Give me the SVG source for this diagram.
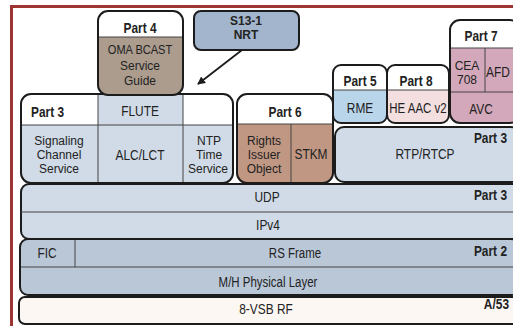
<svg xmlns="http://www.w3.org/2000/svg" width="513" height="326" viewBox="0 0 513 326">
<style>
text{font-family:"Liberation Sans",Arial,sans-serif;font-size:14px;fill:#222;text-anchor:middle}
.b{font-weight:bold}
.r{text-anchor:end}
.l{text-anchor:start}
.s{font-size:12px}
.m{font-size:13px}
.box{fill:none;stroke:#1c1c1c;stroke-width:2}
.div{stroke:#444;stroke-width:1;fill:none}
.lb{fill:#d0dbe7}
.mb{fill:#b9c7d7}
</style>
<defs>
<clipPath id="c3"><rect x="21" y="94" width="212" height="89" rx="10"/></clipPath>
<clipPath id="c4"><rect x="98" y="11" width="85" height="84" rx="10"/></clipPath>
<clipPath id="c6"><rect x="237" y="94" width="96" height="89" rx="10"/></clipPath>
<clipPath id="c5"><rect x="333" y="65" width="54" height="58" rx="8"/></clipPath>
<clipPath id="c8"><rect x="387" y="65" width="62" height="58" rx="8"/></clipPath>
<clipPath id="c7"><rect x="450" y="20" width="70" height="103" rx="10"/></clipPath>
<clipPath id="c2"><rect x="20" y="239" width="499" height="56" rx="8"/></clipPath>
<marker id="ah" markerWidth="8" markerHeight="8" refX="7" refY="4" orient="auto" markerUnits="userSpaceOnUse"><path d="M0,0 L8,4 L0,8 Z" fill="#1c1c1c"/></marker>
</defs>
<g id="frame"><path d="M11.5,326 V6.5 H513" fill="none" stroke="#9e3434" stroke-width="3"/></g>

<g id="part3-left">
<g clip-path="url(#c3)">
<rect x="21" y="94" width="212" height="89" fill="#fff"/>
<rect class="lb" x="98" y="94" width="85" height="31"/>
<rect class="lb" x="21" y="125" width="212" height="58"/>
</g>
<path class="div" d="M21,125 H233 M98,94 V183 M183,94 V183"/>
<rect class="box" x="21" y="94" width="212" height="89" rx="10"/>
<text class="b l" transform="translate(31,117) scale(0.85,1)">Part 3</text>
<text transform="translate(140,116) scale(0.85,1)">FLUTE</text>
<text class="s" x="59" y="145">Signaling</text>
<text class="s" x="59" y="159">Channel</text>
<text class="s" x="59" y="173">Service</text>
<text transform="translate(140,160) scale(0.85,1)">ALC/LCT</text>
<text class="s" x="209" y="145">NTP</text>
<text class="s" x="209" y="159">Time</text>
<text class="s" x="208" y="173">Service</text>
</g>

<g id="part4">
<g clip-path="url(#c4)">
<rect x="98" y="11" width="85" height="84" fill="#fff"/>
<rect x="98" y="37" width="85" height="58" fill="#ab9c8e"/>
</g>
<path class="div" d="M98,37 H183"/>
<rect class="box" x="98" y="11" width="85" height="84" rx="10"/>
<text class="b" transform="translate(140,33) scale(0.85,1)">Part 4</text>
<text class="m" transform="translate(140,54) scale(0.85,1)">OMA BCAST</text>
<text class="m" transform="translate(140,69.5) scale(0.92,1)">Service</text>
<text class="m" transform="translate(140,85) scale(0.92,1)">Guide</text>
</g>

<g id="s13">
<rect x="194" y="11" width="105" height="39" rx="7" fill="#a2b5cc" stroke="#1c1c1c" stroke-width="2"/>
<text class="b s" x="246" y="25">S13-1</text>
<text class="b s" x="246" y="39">NRT</text>
</g>

<g id="connectors">
<path d="M242,50 L198,84" fill="none" stroke="#1c1c1c" stroke-width="1.8" marker-end="url(#ah)"/>
</g>

<g id="part6">
<g clip-path="url(#c6)">
<rect x="237" y="94" width="96" height="89" fill="#fff"/>
<rect x="237" y="124" width="96" height="59" fill="#c09783"/>
</g>
<path class="div" d="M237,124 H333 M291,124 V183"/>
<rect class="box" x="237" y="94" width="96" height="89" rx="10"/>
<text class="b" transform="translate(285,117) scale(0.85,1)">Part 6</text>
<text class="s" x="264" y="145">Rights</text>
<text class="s" x="264" y="159">Issuer</text>
<text class="s" x="264" y="173">Object</text>
<text transform="translate(311,159) scale(0.85,1)">STKM</text>
</g>

<g id="part5">
<g clip-path="url(#c5)">
<rect x="333" y="65" width="54" height="58" fill="#fff"/>
<rect x="333" y="90" width="54" height="33" fill="#b9d5ea"/>
</g>
<path class="div" d="M333,90 H387"/>
<rect class="box" x="333" y="65" width="54" height="58" rx="8"/>
<text class="b" transform="translate(360,86) scale(0.85,1)">Part 5</text>
<text transform="translate(360,113) scale(0.85,1)">RME</text>
</g>

<g id="part8">
<g clip-path="url(#c8)">
<rect x="387" y="65" width="62" height="58" fill="#fff"/>
<rect x="387" y="90" width="62" height="33" fill="#f3dfdf"/>
</g>
<path class="div" d="M387,90 H449"/>
<rect class="box" x="387" y="65" width="62" height="58" rx="8"/>
<text class="b" transform="translate(416,86) scale(0.85,1)">Part 8</text>
<text transform="translate(418,113) scale(0.82,1)">HE AAC v2</text>
</g>

<g id="part7">
<g clip-path="url(#c7)">
<rect x="450" y="20" width="70" height="103" fill="#fff"/>
<rect x="450" y="48" width="70" height="75" fill="#d3a8ba"/>
</g>
<path class="div" d="M450,48 H513 M450,92 H513 M485,48 V92"/>
<rect class="box" x="450" y="20" width="70" height="103" rx="10"/>
<text class="b" transform="translate(481,41) scale(0.85,1)">Part 7</text>
<text class="s" x="467" y="70">CEA</text>
<text class="s" x="467" y="84">708</text>
<text transform="translate(498,77) scale(0.85,1)">AFD</text>
<text transform="translate(481,114) scale(0.85,1)">AVC</text>
</g>

<g id="rtp">
<rect class="lb" x="335" y="127" width="185" height="55" rx="9" stroke="#1c1c1c" stroke-width="2"/>
<text transform="translate(425,159) scale(0.85,1)">RTP/RTCP</text>
<text class="b r" transform="translate(507,143) scale(0.85,1)">Part 3</text>
</g>

<g id="udp-ipv4">
<rect class="lb" x="21" y="184" width="499" height="55" rx="8" stroke="#1c1c1c" stroke-width="2"/>
<path class="div" d="M21,212 H513"/>
<text transform="translate(267,202) scale(0.85,1)">UDP</text>
<text transform="translate(268,230) scale(0.85,1)">IPv4</text>
<text class="b r" transform="translate(507,200) scale(0.85,1)">Part 3</text>
</g>

<g id="part2">
<g clip-path="url(#c2)"><rect class="mb" x="20" y="239" width="499" height="56"/></g>
<path class="div" d="M20,267 H513 M75,239 V267"/>
<rect class="box" x="20" y="239" width="499" height="56" rx="8"/>
<text transform="translate(47,258) scale(0.85,1)">FIC</text>
<text transform="translate(295,258) scale(0.82,1)">RS Frame</text>
<text transform="translate(268,287) scale(0.82,1)">M/H Physical Layer</text>
<text class="b r" transform="translate(507,256) scale(0.85,1)">Part 2</text>
</g>

<g id="vsb">
<rect x="19" y="297" width="500" height="27" rx="6" fill="#fcf7f3" stroke="#1c1c1c" stroke-width="2"/>
<text transform="translate(266,314) scale(0.85,1)">8-VSB RF</text>
<text class="b r" transform="translate(509,309) scale(0.85,1)">A/53</text>
</g>
</svg>
